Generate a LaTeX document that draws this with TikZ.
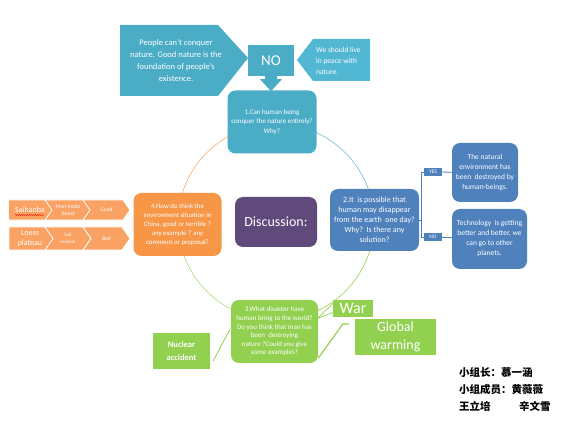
\documentclass[tikz,border=0pt]{standalone}
\usepackage{fontspec}
\setmainfont{Carlito}
\newfontfamily\cjkfont{Noto Sans CJK SC}
\usetikzlibrary{calc,positioning,shapes.symbols,decorations.pathmorphing}

\definecolor{qteal}{HTML}{4BACC6}
\definecolor{qtealL}{HTML}{52B7D3}
\definecolor{qblue}{HTML}{4F81BD}
\definecolor{qpurple}{HTML}{604A7B}
\definecolor{qorange}{HTML}{F79646}
\definecolor{qorangeL}{HTML}{F9A263}
\definecolor{qgreen}{HTML}{92D050}

\begin{document}
\begin{tikzpicture}[x=1pt,
    y=-1pt,
    inner sep=1pt]
  \tikzstyle{qbox}=[rounded corners=8pt,text=white,align=center]
  \tikzstyle{gbox}=[fill=qgreen,text=white,align=center]
  \tikzstyle{tag}=[fill=qblue,text=white,minimum width=18pt,minimum height=8pt,
    inner sep=0pt,font=\fontsize{5.5}{6}\selectfont]
  \tikzstyle{chev}=[signal,signal to=east,signal pointer angle=110,draw=white,
    line width=0.8pt,fill=qorangeL,text=white,align=center,inner sep=0pt]
  \tikzstyle{ring}=[line width=0.6pt]

  \useasboundingbox (0,0) rectangle (563,430);

  % the cycle behind the four questions
  \coordinate (c) at (276,222);
  \draw[ring,qteal!80]   (c) ++(-90:98) arc[start angle=-90,end angle=0,radius=98];
  \draw[ring,qgreen]     (c) ++(0:98)   arc[start angle=0,end angle=90,radius=98];
  \draw[ring,qgreen!80]  (c) ++(90:98)  arc[start angle=90,end angle=180,radius=98];
  \draw[ring,qorange!80] (c) ++(180:98) arc[start angle=180,end angle=270,radius=98];

  % callouts round the NO
  \fill[qteal]  (120,25) -- (218,25) -- (248,58) -- (218,96) -- (120,96) -- cycle;
  \fill[qtealL] (297,60) -- (313,39) -- (370,39) -- (370,81) -- (313,81) -- cycle;
  \node[text=white,align=center,font=\fontsize{8.5}{12}\selectfont] (ppl) at (176,61)
    {People can't conquer\\nature. Good nature is the\\foundation of people's\\existence.};
  \node[text=white,align=left,anchor=west,font=\fontsize{7.5}{11}\selectfont] (live) at (315,61)
    {We should live\\in peace with\\nature.};
  \node[fill=qteal,text=white,minimum width=46pt,minimum height=31pt,
    font=\fontsize{15}{17}\selectfont] (no) at (271,60.5) {NO};
  \fill[qteal] ($(no.south)+(-6,0)$) -- ++(12,0) -- ++(0,3) -- ++(5,0)
    -- ($(no.south)+(0,15)$) -- ++(-11,-12) -- ++(5,0) -- cycle;

  % questions
  \node[qbox,fill=qteal,minimum width=89pt,minimum height=63pt,
    font=\fontsize{7}{9.5}\selectfont] (q1) at (272,122)
    {1.Can human being\\conquer the nature entirely?\\Why?};
  \node[qbox,fill=qblue,minimum width=89pt,minimum height=62pt,
    font=\fontsize{8}{10}\selectfont] (q2) at (374.5,220)
    {2.It\ \ is possible that\\human may disappear\\from the earth\ \ one day?\\Why?\ \ Is there any\\solution?};
  \node[qbox,fill=qgreen,minimum width=87pt,minimum height=63pt,
    font=\fontsize{7}{8.6}\selectfont] (q3) at (274.5,331.5)
    {3.What disaster have\\human bring to the world?\\Do you think that man has\\been\ \ destroying\\nature ?Could you give\\some examples?};
  \node[qbox,fill=qorange,minimum width=88pt,minimum height=63pt,
    font=\fontsize{6.8}{9}\selectfont] (q4) at (177.5,224.5)
    {4.How do think the\\environment situation in\\China, good or terrible ?\\any example ? any\\comment or proposal?};
  \node[qbox,fill=qpurple,minimum width=82pt,minimum height=50pt,
    font=\fontsize{14}{16}\selectfont] (disc) at (276,222) {Discussion:};

  % answers to 2
  \node[tag] (yes) at (433,172) {YES};
  \node[tag] (non) at (433,237) {NO};
  \node[qbox,fill=qblue,minimum width=66pt,minimum height=59pt,
    font=\fontsize{7.5}{10}\selectfont] (nat) at (485,172.5)
    {The natural\\environment has\\been\ \ destroyed by\\human-beings.};
  \node[qbox,fill=qblue,minimum width=75pt,minimum height=60pt,
    font=\fontsize{7.5}{10}\selectfont] (tech) at (489.5,239)
    {Technology\ \ is getting\\better and better, we\\can go to other\\planets.};
  \draw[qblue,line width=0.8pt] (q2.east) -- ++(2,0) |- (yes.west);
  \draw[qblue,line width=0.8pt] (q2.east) -- ++(2,0) |- (non.west);
  \draw[qblue,line width=0.8pt] (yes) -- (nat);
  \draw[qblue,line width=0.8pt] (non) -- (tech);

  % disasters
  \node[gbox,minimum width=40pt,minimum height=17pt,
    font=\fontsize{16}{18}\selectfont] (war) at (353,308.5) {War};
  \node[gbox,minimum width=81pt,minimum height=36pt,
    font=\fontsize{14}{18}\selectfont] (glob) at (395.5,337) {Global\\warming};
  \node[gbox,minimum width=57pt,minimum height=36pt,
    font=\bfseries\fontsize{8.5}{13}\selectfont] (nuc) at (181.5,351) {Nuclear\\accident};
  \coordinate (w) at ($(q3.east)+(0,-13.5)$);
  \draw[qgreen,line width=0.7pt] (w) -- ($(war.west)+(0,-5)$);
  \draw[qgreen,line width=0.7pt] (w) -- ($(war.west)+(0,4)$);
  \draw[qgreen,line width=1.2pt] ($(q3.south east)+(0,-5)$) -- ($(glob.west)+(-12,-13)$)
    -- ($(glob.west)+(-6,-13)$);
  \draw[qgreen,line width=0.8pt] ($(nuc.east)+(3,10)$) -- ($(q3.west)+(-1,-2)$);

  % examples in China
  \node[chev,minimum width=50pt,minimum height=20pt,
    font=\fontsize{8}{9}\selectfont] (sai) at (30,210) {Saihanba};
  \node[chev,signal from=west,minimum width=46pt,minimum height=20pt,
    font=\fontsize{5.5}{6.5}\selectfont] (forest) at (68,210) {Man-made\\forest};
  \node[chev,signal from=west,minimum width=47pt,minimum height=20pt,
    font=\fontsize{5.5}{6.5}\selectfont] (good) at (106.5,210) {Good};
  \node[chev,minimum width=50pt,minimum height=23pt,
    font=\fontsize{8}{9.3}\selectfont] (loess) at (30,238.5) {Loess\\plateau};
  \node[chev,signal from=west,minimum width=46pt,minimum height=23pt,
    font=\fontsize{5}{6.5}\selectfont] (soil) at (68,238.5) {Soil\\erosion};
  \node[chev,signal from=west,minimum width=47pt,minimum height=23pt,
    font=\fontsize{5.5}{6.5}\selectfont] (bad) at (106.5,238.5) {Bad};
  \draw[red,line width=0.4pt,decorate,decoration={snake,amplitude=0.5pt,segment length=2pt}]
    ($(sai.center)+(-15,5)$) -- ++(29,0);

  % team
  \node[anchor=north west,align=left,font=\cjkfont\bfseries\fontsize{10.5}{17}\selectfont] (team) at (458,366)
    {小组长：慕一涵\\小组成员：黄薇薇\\王立培\hspace{2.7em}辛文雪};
\end{tikzpicture}
\end{document}
